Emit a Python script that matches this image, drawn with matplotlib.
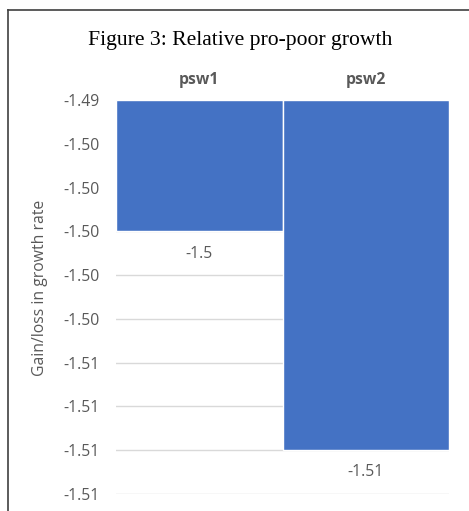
import matplotlib
matplotlib.use("Agg")
import matplotlib.pyplot as plt
from matplotlib.lines import Line2D

categories = ["psw1", "psw2"]
values = [-1.500, -1.510]
value_labels = ["-1.5", "-1.51"]
y_ticks = [-1.494, -1.496, -1.498, -1.500, -1.502, -1.504, -1.506, -1.508, -1.510, -1.512]
y_tick_labels = ["-1.49", "-1.50", "-1.50", "-1.50", "-1.50", "-1.50",
                 "-1.51", "-1.51", "-1.51", "-1.51"]
y_top, y_bottom = -1.494, -1.512

title = "Figure 3: Relative pro-poor growth"
y_label = "Gain/loss in growth rate"

bar_color = "#4472C4"
text_gray = "#595959"
grid_gray = "#D9D9D9"
sans = ["Open Sans", "DejaVu Sans"]

fig = plt.figure(figsize=(4.69, 5.11), dpi=100)
ax = fig.add_axes([116 / 469, 1 - 494 / 511, (449 - 116) / 469, (494 - 100) / 511])

x = list(range(len(categories)))
# bars hang down from the top of the axis (axis crosses at the maximum)
ax.bar(x, [v - y_top for v in values], bottom=y_top, width=1.0,
       color=bar_color, edgecolor="white", linewidth=1.0, zorder=3)

ax.set_xlim(-0.5, len(categories) - 0.5)
ax.set_ylim(y_bottom, y_top)
ax.set_yticks(y_ticks)
ax.set_yticklabels(y_tick_labels, family=sans, fontsize=11.3, color=text_gray)
ax.tick_params(axis="y", length=0, pad=12)
ax.yaxis.grid(True, color=grid_gray, linewidth=1.0, zorder=0)
ax.set_axisbelow(True)

ax.xaxis.tick_top()
ax.set_xticks(x)
ax.set_xticklabels(categories, family=sans, fontsize=11.3, fontweight="bold", color=text_gray)
ax.tick_params(axis="x", length=0, pad=9)

for s in ax.spines.values():
    s.set_visible(False)

for xi, v, lab in zip(x, values, value_labels):
    ax.annotate(lab, (xi, v), xytext=(0, -16), textcoords="offset points",
                ha="center", va="center", family=sans, fontsize=11.3, color=text_gray)

ax.set_ylabel(y_label, family=sans, fontsize=11.3, color=text_gray)
ax.yaxis.set_label_coords((48 - 116) / 333, (494 - 288) / 394)

fig.text(240 / 469, 1 - 40 / 511, title, family=["Liberation Serif", "DejaVu Serif"],
         fontsize=15.6, ha="center", va="center", color="black")

# outer frame
frame_color = "#404040"
fig.add_artist(Line2D([8 / 469, 8 / 469], [0, 1 - 10 / 511], transform=fig.transFigure,
                      color=frame_color, linewidth=1.2))
fig.add_artist(Line2D([8 / 469, 1], [1 - 10 / 511, 1 - 10 / 511], transform=fig.transFigure,
                      color=frame_color, linewidth=1.2))

fig.savefig("out.png", dpi=100)
